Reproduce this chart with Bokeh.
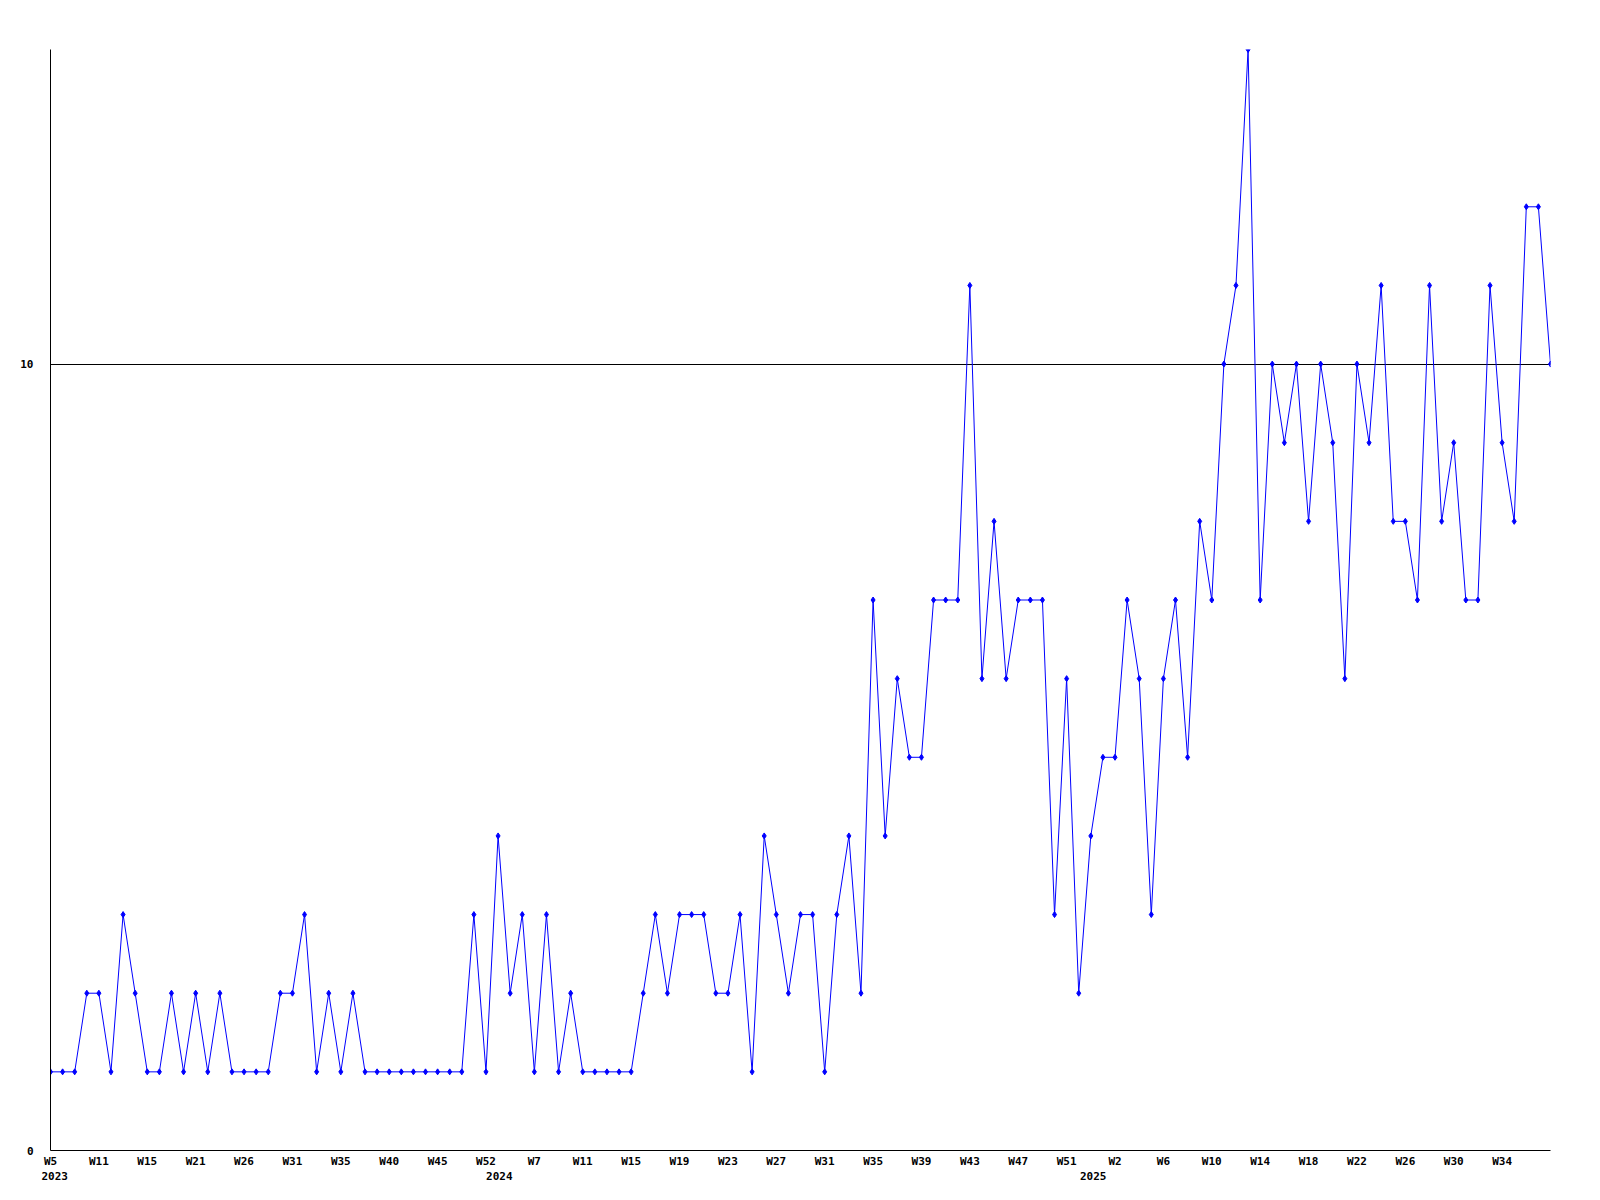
from bokeh.plotting import figure
from bokeh.models import Range1d, FixedTicker, LinearAxis
from bokeh.embed import file_html
from bokeh.resources import INLINE

# Weekly counts (one point per reported week, 2023 W5 .. 2025)
values = [1, 1, 1, 2, 2, 1, 3, 2, 1, 1,
          2, 1, 2, 1, 2, 1, 1, 1, 1, 2,
          2, 3, 1, 2, 1, 2, 1, 1, 1, 1,
          1, 1, 1, 1, 1, 3, 1, 4, 2, 3,
          1, 3, 1, 2, 1, 1, 1, 1, 1, 2,
          3, 2, 3, 3, 3, 2, 2, 3, 1, 4,
          3, 2, 3, 3, 1, 3, 4, 2, 7, 4,
          6, 5, 5, 7, 7, 7, 11, 6, 8, 6,
          7, 7, 7, 3, 6, 2, 4, 5, 5, 7,
          6, 3, 6, 7, 5, 8, 7, 10, 11, 14,
          7, 10, 9, 10, 8, 10, 9, 6, 10, 9,
          11, 8, 8, 7, 11, 8, 9, 7, 7, 11,
          9, 8, 12, 12, 10]
idx = list(range(len(values)))

# Week tick labels (every 4th point)
week_labels = ["W5", "W11", "W15", "W21", "W26", "W31", "W35", "W40", "W45", "W52",
               "W7", "W11", "W15", "W19", "W23", "W27", "W31", "W35", "W39", "W43",
               "W47", "W51", "W2", "W6", "W10", "W14", "W18", "W22", "W26", "W30", "W34"]
week_ticks = [4 * k for k in range(len(week_labels))]

# Year labels and where they sit along the week axis
year_labels = ["2023", "2024", "2025"]
year_ticks = [0.35, 37.1, 86.2]

y_ticks = [0, 10]
ref_line = [10]

FONT = "DejaVu Sans Mono"

p = figure(width=1584, height=1184,
           x_range=Range1d(0, len(values) - 1), y_range=Range1d(0, 14),
           output_backend="svg", toolbar_location=None,
           min_border_left=50, min_border_right=34,
           min_border_top=49, min_border_bottom=34)
p.outline_line_color = None
p.background_fill_color = "white"
p.border_fill_color = "white"

# grids
p.xgrid.visible = False
p.ygrid.ticker = FixedTicker(ticks=ref_line)
p.ygrid.grid_line_color = "black"
p.ygrid.grid_line_alpha = 1.0
p.ygrid.grid_line_width = 1

# x axis (weeks)
xa = p.xaxis[0]
xa.ticker = FixedTicker(ticks=week_ticks)
xa.major_label_overrides = {t: lab for t, lab in zip(week_ticks, week_labels)}
xa.major_tick_line_color = None
xa.minor_tick_line_color = None
xa.major_tick_out = 0
xa.major_tick_in = 0
xa.axis_line_color = "black"
xa.axis_line_width = 1
xa.major_label_standoff = 4
xa.major_label_text_font = FONT
xa.major_label_text_font_style = "bold"
xa.major_label_text_font_size = "11px"
xa.major_label_text_color = "black"

# second row: years
ya2 = LinearAxis(ticker=FixedTicker(ticks=year_ticks),
                 major_label_overrides={t: lab for t, lab in zip(year_ticks, year_labels)},
                 axis_line_color=None, major_tick_line_color=None,
                 minor_tick_line_color=None, major_tick_out=0, major_tick_in=0,
                 major_label_standoff=1,
                 major_label_text_font=FONT, major_label_text_font_style="bold",
                 major_label_text_font_size="11px", major_label_text_color="black")
p.add_layout(ya2, "below")

# y axis
ya = p.yaxis[0]
ya.ticker = FixedTicker(ticks=y_ticks)
ya.major_tick_line_color = None
ya.minor_tick_line_color = None
ya.major_tick_out = 0
ya.major_tick_in = 0
ya.axis_line_color = "black"
ya.major_label_standoff = 17
ya.major_label_text_font = FONT
ya.major_label_text_font_style = "bold"
ya.major_label_text_font_size = "11px"
ya.major_label_text_color = "black"

p.line(idx, values, line_color="#0000ff", line_width=1)
p.scatter(idx, values, marker="diamond", size=6, color="#0000ff")

open("out.html", "w").write(file_html(p, INLINE))
